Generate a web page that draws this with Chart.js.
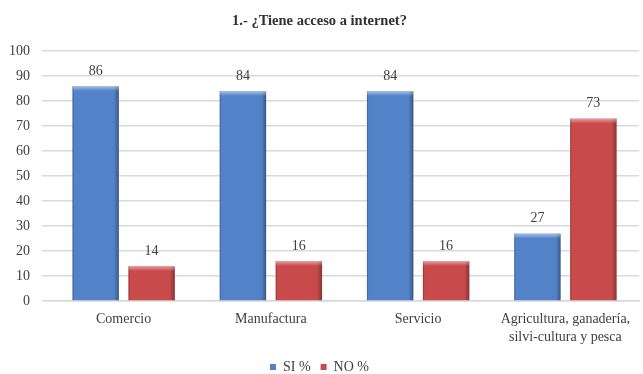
<!DOCTYPE html>
<html>
<head>
<meta charset="utf-8">
<script src="https://cdn.jsdelivr.net/npm/chart.js@4"></script>
<style>
  html, body { margin: 0; padding: 0; background: #fff; }
  #wrap { width: 643px; height: 374px; }
</style>
</head>
<body>
<div id="wrap"><canvas id="myChart"></canvas></div>
<script>
// categorias y porcentajes
const categorias = ["Comercio", "Manufactura", "Servicio", ["Agricultura, ganadería,", "silvi-cultura y pesca"]];
const siValores = [86, 84, 84, 27];
const noValores = [14, 16, 16, 73];
const ticksY = [0, 10, 20, 30, 40, 50, 60, 70, 80, 90, 100];

const serif = "'Liberation Serif', 'Times New Roman', serif";

// etiquetas de valor sobre cada barra
const etiquetas = {
  id: "etiquetas",
  afterDatasetsDraw(chart) {
    const ctx = chart.ctx;
    ctx.save();
    ctx.font = "14px " + serif;
    ctx.fillStyle = "#404040";
    ctx.textAlign = "center";
    ctx.textBaseline = "middle";
    chart.data.datasets.forEach((ds, i) => {
      chart.getDatasetMeta(i).data.forEach((bar, j) => {
        ctx.fillText(ds.data[j], bar.x, bar.y - 15);
      });
    });
    ctx.restore();
  }
};

// relieve de las barras (borde claro arriba, sombra en los lados)
const relieve = {
  id: "relieve",
  afterDatasetsDraw(chart) {
    const ctx = chart.ctx;
    ctx.save();
    chart.data.datasets.forEach((ds, i) => {
      chart.getDatasetMeta(i).data.forEach(bar => {
        const l = bar.x - bar.width / 2, r = bar.x + bar.width / 2;
        const t = bar.y, b = bar.base, e = 5;
        ctx.fillStyle = "rgba(0,0,0,0.18)";
        ctx.fillRect(l, t, 1.2, b - t);
        let g = ctx.createLinearGradient(r - e, 0, r, 0);
        g.addColorStop(0, "rgba(0,0,0,0)");
        g.addColorStop(1, "rgba(0,0,0,0.32)");
        ctx.fillStyle = g;
        ctx.fillRect(r - e, t, e, b - t);
        g = ctx.createLinearGradient(0, t, 0, t + e);
        g.addColorStop(0, "rgba(255,255,255,0.5)");
        g.addColorStop(1, "rgba(255,255,255,0)");
        ctx.fillStyle = g;
        ctx.fillRect(l, t, r - l, e);
      });
    });
    ctx.restore();
  }
};

// alto fijo para la leyenda
const altoLeyenda = {
  id: "altoLeyenda",
  beforeLayout(chart) {
    const lg = chart.legend;
    if (lg && !lg._altoFijo) {
      const fit = lg.fit.bind(lg);
      lg.fit = function () { fit(); this.height = 24; };
      lg._altoFijo = true;
    }
  }
};

const data = {
  labels: categorias,
  datasets: [
    {
      label: "SI %",
      data: siValores,
      backgroundColor: "#5283C9",
      borderWidth: 0,
      categoryPercentage: 0.76,
      barPercentage: 0.83
    },
    {
      label: "NO %",
      data: noValores,
      backgroundColor: "#C94A4B",
      borderWidth: 0,
      categoryPercentage: 0.76,
      barPercentage: 0.83
    }
  ]
};

const config = {
  type: "bar",
  data: data,
  options: {
    responsive: true,
    maintainAspectRatio: false,
    animation: false,
    layout: { padding: { left: 0, right: 4, top: 0, bottom: 0 } },
    plugins: {
      title: {
        display: true,
        text: "1.- ¿Tiene acceso a internet?",
        color: "#303030",
        font: { family: serif, size: 14.5, weight: "bold" },
        padding: { top: 13, bottom: 20.6 }
      },
      legend: {
        position: "bottom",
        labels: {
          color: "#404040",
          font: { family: serif, size: 14 },
          boxWidth: 6,
          boxHeight: 6,
          padding: 10
        }
      },
      tooltip: { enabled: false }
    },
    scales: {
      x: {
        afterFit: axis => { axis.height = 49; },
        grid: { display: false },
        border: { color: "#d9d9d9", width: 1.5 },
        ticks: {
          color: "#404040",
          font: { family: serif, size: 14, lineHeight: 1.32 },
          maxRotation: 0,
          padding: 1
        }
      },
      y: {
        min: 0,
        max: 100,
        afterBuildTicks: axis => { axis.ticks = ticksY.map(v => ({ value: v })); },
        afterFit: axis => { axis.width = 50; },
        grid: { color: "#d9d9d9", lineWidth: 1.5 },
        border: { display: false },
        ticks: {
          color: "#404040",
          font: { family: serif, size: 14 },
          padding: 12
        }
      }
    }
  },
  plugins: [altoLeyenda, relieve, etiquetas]
};

const context = document.getElementById("myChart").getContext("2d");
const chart = new Chart(context, config);
</script>
</body>
</html>
